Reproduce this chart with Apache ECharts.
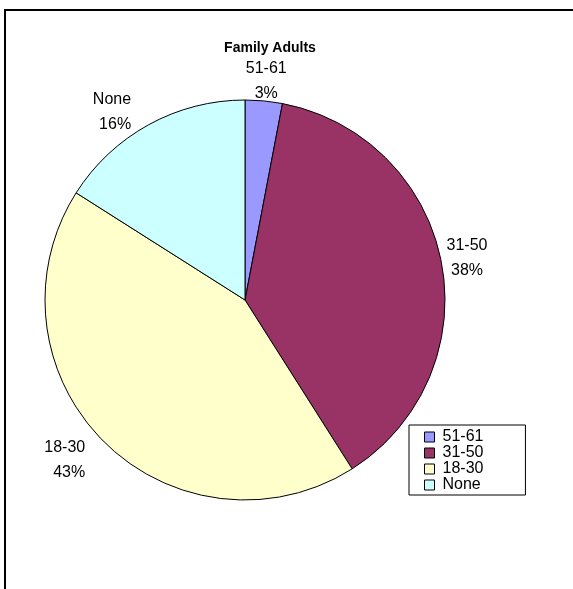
<!DOCTYPE html>
<html>
<head>
<meta charset="utf-8">
<style>
html,body{margin:0;padding:0;background:#fff;}
#chart{width:573px;height:589px;}
</style>
<script src="https://cdn.jsdelivr.net/npm/echarts@6/dist/echarts.min.js"></script>
</head>
<body>
<div id="chart"></div>
<script>
const titleText = "Family Adults";
const categories = ["51-61", "31-50", "18-30", "None"];
const values = [3, 38, 43, 16];
const colors = ["#9999FF", "#993366", "#FFFFCC", "#CCFFFF"];

const chart = echarts.init(document.getElementById('chart'), null, {renderer: 'canvas'});
const FONT = '"Liberation Sans", Arial, sans-serif';
const CX = 245, CY = 300;

chart.setOption({
  animation: false,
  backgroundColor: '#ffffff',
  graphic: [{
    type: 'rect',
    shape: {x: 5, y: 10, width: 620, height: 620},
    style: {fill: 'none', stroke: '#000', lineWidth: 2},
    silent: true,
    z: -10
  }],
  title: {
    text: titleText,
    left: 265,
    top: 36,
    textAlign: 'center',
    textStyle: {fontFamily: FONT, fontSize: 14, fontWeight: 'bold', color: '#000'}
  },
  legend: {
    orient: 'vertical',
    left: 409,
    top: 425,
    data: categories,
    backgroundColor: '#fff',
    borderColor: '#000',
    borderWidth: 1,
    padding: [4, 42, 2, 15],
    itemWidth: 10,
    itemHeight: 10,
    itemGap: 0,
    icon: 'rect',
    itemStyle: {borderColor: '#000', borderWidth: 1},
    textStyle: {fontFamily: FONT, fontSize: 16, lineHeight: 16, color: '#000', padding: [0,0,0,3]}
  },
  series: [{
    type: 'pie',
    center: [CX, CY],
    radius: 200,
    startAngle: 90,
    clockwise: true,
    data: categories.map((c, i) => ({name: c, value: values[i], itemStyle: {color: colors[i]}})),
    itemStyle: {borderColor: '#000', borderWidth: 1},
    label: {
      show: true,
      position: 'outside',
      formatter: '{b}\n{d}%',
      fontFamily: FONT,
      fontSize: 16,
      lineHeight: 25,
      color: '#000',
      distanceToLabelLine: 0
    },
    labelLine: {show: false, length: 26, length2: 0},
    labelLayout: function (params) {
      const r = params.labelRect;
      const mx = r.x + r.width / 2, my = r.y + r.height / 2;
      const d = Math.hypot(mx - CX, my - CY) || 1;
      const ny = (my - CY) / d;
      const out = {};
      // labels on the right half are centred on their anchor point, left ones stay right-aligned
      if (r.x >= CX - 5) out.align = 'center';
      // labels sitting above the pie hug its rim more closely
      if (ny < -0.8) {
        out.dy = (r.x < CX - 5) ? 10 : 6;
        if (r.x < CX - 5) out.dx = -5;
      }
      return out;
    },
    emphasis: {disabled: true}
  }]
});
</script>
</body>
</html>
